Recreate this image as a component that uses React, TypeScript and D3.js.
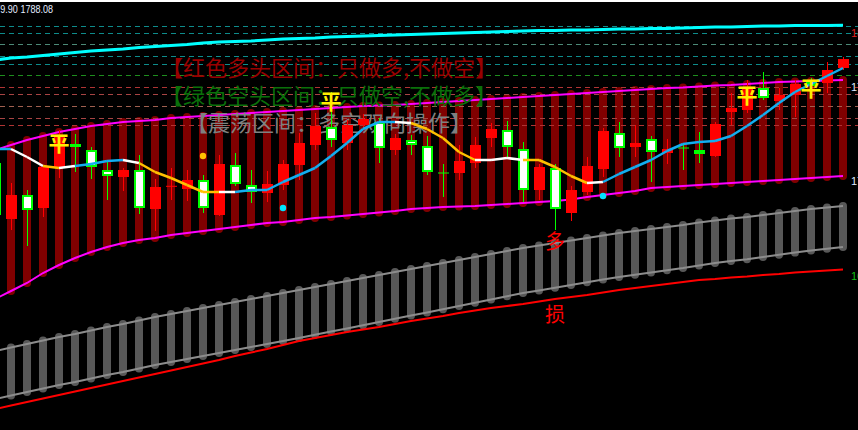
import React from 'react';
import * as d3 from 'd3';

const W = 858;
const H = 430;

// ---- candle data (bar 0 sits just off the left edge) ----
const candleOpen = [1736.1, 1708.1, 1720.1, 1713.6, 1733.6, 1745.6, 1742.6, 1732.6, 1729.1, 1732.6, 1713.1, 1724.5, 1723.1, 1727.6, 1710.1, 1735.1, 1725.1, 1721.1, 1725.1, 1735.1, 1745.1, 1754.1, 1746.1, 1755.1, 1756.6, 1742.6, 1747.6, 1744.6, 1731.1, 1731.1, 1736.1, 1748.6, 1752.6, 1743.1, 1722.6, 1733.6, 1711.1, 1721.6, 1733.1, 1751.1, 1744.1, 1748.1, 1741.1, 1743.6, 1742.6, 1739.6, 1761.6, 1762.6, 1773.6, 1767.1, 1770.1, 1776.6, 1776.1, 1783.6];
const candleHigh = [1740.1, 1726.1, 1722.6, 1735.1, 1752.6, 1750.6, 1744.1, 1736.6, 1733.6, 1740.1, 1728.1, 1733.6, 1732.6, 1730.1, 1740.1, 1741.1, 1732.6, 1732.1, 1737.6, 1751.1, 1761.1, 1771.6, 1757.6, 1760.6, 1758.6, 1750.6, 1750.1, 1749.6, 1735.6, 1745.1, 1749.1, 1756.1, 1757.1, 1746.6, 1735.6, 1735.6, 1724.6, 1739.1, 1753.6, 1756.6, 1755.1, 1749.6, 1748.1, 1746.1, 1751.6, 1756.6, 1771.1, 1777.6, 1781.6, 1773.6, 1777.6, 1778.6, 1786.6, 1789.1];
const candleLow = [1706.6, 1702.6, 1694.6, 1709.1, 1728.6, 1731.6, 1728.1, 1717.6, 1722.1, 1710.6, 1702.1, 1717.6, 1717.1, 1711.1, 1709.6, 1724.6, 1716.1, 1716.6, 1722.6, 1727.6, 1742.6, 1744.1, 1742.6, 1752.6, 1736.1, 1740.1, 1740.1, 1730.1, 1719.1, 1727.6, 1733.6, 1744.1, 1739.1, 1716.6, 1717.6, 1702.6, 1707.1, 1720.1, 1729.1, 1739.1, 1739.1, 1726.6, 1735.6, 1732.6, 1736.1, 1739.1, 1755.1, 1761.1, 1767.6, 1762.6, 1759.1, 1770.1, 1771.1, 1782.6];
const candleClose = [1710.1, 1720.1, 1712.6, 1734.1, 1750.1, 1744.1, 1734.1, 1729.6, 1732.6, 1713.6, 1724.1, 1724.7, 1727.6, 1713.6, 1735.6, 1725.6, 1721.6, 1725.6, 1735.6, 1746.1, 1754.6, 1747.6, 1755.1, 1758.1, 1743.6, 1748.6, 1745.1, 1731.6, 1731.1, 1737.1, 1745.1, 1753.1, 1744.1, 1722.6, 1734.1, 1713.1, 1722.6, 1734.6, 1752.1, 1743.6, 1746.1, 1741.6, 1743.1, 1743.6, 1740.6, 1755.6, 1763.6, 1774.1, 1768.6, 1770.1, 1775.6, 1774.6, 1782.6, 1788.08];

// ---- indicator lines ----
const cyanLine = [1787.6, 1788.6, 1789.1, 1789.85, 1790.6, 1791.35, 1792.1, 1792.6, 1793.1, 1793.85, 1794.35, 1794.85, 1795.35, 1796.1, 1796.6, 1796.85, 1797.1, 1797.6, 1798.1, 1798.35, 1798.6, 1799.1, 1799.35, 1799.6, 1799.85, 1800.1, 1800.35, 1800.6, 1800.85, 1801.1, 1801.35, 1801.6, 1801.85, 1802.1, 1802.35, 1802.35, 1802.6, 1802.6, 1802.85, 1803.1, 1803.1, 1803.35, 1803.35, 1803.6, 1803.85, 1804.1, 1804.1, 1804.35, 1804.6, 1804.6, 1804.85, 1804.85, 1804.85, 1804.95];
const bandUpper = [1742.6, 1745.1, 1747.6, 1749.6, 1751.6, 1753.1, 1754.6, 1755.6, 1756.6, 1757.1, 1757.6, 1758.6, 1759.1, 1759.6, 1760.1, 1760.6, 1761.1, 1761.6, 1762.1, 1762.6, 1763.1, 1763.6, 1764.1, 1764.6, 1764.85, 1765.1, 1765.6, 1766.1, 1766.6, 1767.1, 1767.6, 1768.1, 1768.6, 1769.1, 1769.6, 1770.1, 1770.6, 1771.1, 1771.6, 1772.1, 1772.6, 1773.1, 1773.6, 1773.85, 1774.35, 1774.85, 1775.1, 1775.6, 1776.1, 1776.6, 1776.85, 1777.1, 1777.35, 1777.6];
const bandLower = [1668.1, 1672.1, 1676.1, 1681.1, 1685.1, 1688.6, 1691.6, 1694.1, 1696.1, 1697.6, 1698.6, 1700.1, 1701.1, 1702.1, 1703.1, 1704.1, 1705.1, 1706.1, 1706.6, 1707.6, 1708.6, 1709.1, 1709.85, 1710.6, 1711.35, 1712.1, 1713.1, 1713.6, 1714.1, 1714.35, 1714.6, 1715.1, 1715.6, 1716.1, 1716.6, 1717.1, 1717.85, 1719.1, 1720.1, 1721.1, 1722.1, 1723.6, 1724.1, 1724.6, 1725.1, 1725.6, 1726.1, 1726.6, 1727.1, 1727.6, 1728.1, 1728.6, 1729.1, 1729.6];
const grayUpper = [1642.1, 1643.85, 1645.6, 1647.35, 1649.1, 1650.6, 1652.35, 1654.1, 1655.6, 1657.35, 1659.1, 1660.6, 1662.1, 1663.6, 1665.1, 1666.6, 1668.1, 1669.6, 1671.1, 1672.6, 1674.1, 1675.6, 1677.1, 1678.6, 1680.1, 1681.6, 1683.1, 1684.6, 1686.1, 1687.6, 1689.1, 1690.6, 1692.1, 1693.6, 1694.85, 1696.1, 1697.35, 1698.6, 1699.85, 1701.1, 1702.1, 1703.1, 1704.1, 1705.1, 1706.35, 1707.35, 1708.35, 1709.1, 1710.1, 1711.1, 1712.1, 1713.1, 1713.85, 1714.6];
const grayLower = [1618.1, 1619.85, 1621.6, 1623.35, 1625.1, 1626.6, 1628.35, 1630.1, 1631.6, 1633.35, 1635.1, 1636.6, 1638.1, 1639.6, 1641.1, 1642.6, 1644.1, 1645.6, 1647.1, 1648.6, 1650.2, 1651.8, 1653.4, 1655.0, 1656.6, 1658.2, 1659.8, 1661.4, 1663.0, 1664.6, 1666.25, 1667.85, 1669.45, 1671.05, 1672.4, 1673.75, 1675.1, 1676.45, 1677.8, 1679.15, 1680.25, 1681.35, 1682.45, 1683.55, 1684.9, 1686.05, 1687.15, 1688.0, 1689.1, 1690.2, 1691.3, 1692.4, 1693.25, 1694.1];
const stopLine = [1613.1, 1614.85, 1616.6, 1618.35, 1620.1, 1621.85, 1623.6, 1625.35, 1627.1, 1628.85, 1630.6, 1632.35, 1634.1, 1635.85, 1637.6, 1639.6, 1641.35, 1643.1, 1645.1, 1647.1, 1648.6, 1650.1, 1651.6, 1652.85, 1654.1, 1655.6, 1657.1, 1658.35, 1659.6, 1661.1, 1662.35, 1663.6, 1664.6, 1665.6, 1666.85, 1668.1, 1669.1, 1670.1, 1671.35, 1672.6, 1673.6, 1674.6, 1675.6, 1676.6, 1677.6, 1678.1, 1678.85, 1679.35, 1680.1, 1680.6, 1681.35, 1681.85, 1682.35, 1682.85];
const maLine = [1743.1, 1743.1, 1739.1, 1734.6, 1733.6, 1734.6, 1735.6, 1737.1, 1737.6, 1736.1, 1731.6, 1728.6, 1725.1, 1721.6, 1721.6, 1721.6, 1722.6, 1722.6, 1726.6, 1730.1, 1733.6, 1739.6, 1746.1, 1753.1, 1756.6, 1756.6, 1756.1, 1753.1, 1748.6, 1741.6, 1737.6, 1737.6, 1738.6, 1737.6, 1737.6, 1734.1, 1729.6, 1726.1, 1726.6, 1730.6, 1734.1, 1737.6, 1742.1, 1745.6, 1746.6, 1747.1, 1749.6, 1754.6, 1760.1, 1766.1, 1771.6, 1775.6, 1779.6, 1783.6];
// 1 = rising (blue), -1 = falling (yellow), 0 = flat (white); colour of segment ending at the bar
const maTrend = [0, 1, 0, 0, -1, 0, 1, 1, 1, 0, -1, -1, -1, -1, -1, 0, 1, 1, 1, 1, 1, 1, 1, 1, 1, 1, 0, -1, -1, -1, -1, 0, 0, 0, -1, -1, -1, -1, 0, 1, 1, 1, 1, 1, 1, 1, 1, 1, 1, 1, 1, 1, 1, 1];

// ---- horizontal levels ----
const levelPrices = [1804.75, 1800.95, 1795.45, 1789.6, 1785.6, 1779.95, 1774.1, 1770.45, 1764.6, 1758.75, 1754.95];
const levelColors = ['#0e8c8c', '#0e8c8c', '#4d8a78', '#0e8c8c', '#0e8c8c', '#1e8e1e', '#b03434', '#a84444', '#a06050', '#a84444', '#b03434'];

// ---- signals ----
const pingBars = [4, 21, 47, 51];
const pingPrices = [1746.6, 1767.6, 1770.6, 1774.1];
const cyanDotBars = [18, 38];
const cyanDotPrices = [1713.6, 1719.6];
const goldDotBars = [13];
const goldDotPrices = [1739.6];
const longBar = 35;
const longPrice = 1697.6;
const stopPrice = 1661.1;

// ---- labels ----
const legendLines = ['【红色多头区间：只做多,不做空】', '【绿色空头区间：只做空,不做多】', '【震荡区间：多空双向操作】'];
const legendColors = ['#9a0000', '#0a700a', '#808080'];
const axisLabels = ['1801.10', '1774.10', '1727.10', '1679.60'];
const axisLabelPrices = [1801.1, 1774.1, 1727.1, 1679.6];
const axisLabelColors = ['#e02020', '#dfe8ff', '#dfe8ff', '#10c010'];
const headerText = 'XAUUSD,H1  1783.60 1789.10 1779.90 1788.08';

const n = candleClose.length;
const xScale = d3.scaleLinear().domain([0, n - 1]).range([-5, 843]);
const yScale = d3.scaleLinear().domain([1602.6, 1817.6]).range([H, 0]);

const lineGen = d3
  .line<number>()
  .x((_, i) => xScale(i))
  .y((v) => yScale(v));

const trendColor = (t: number) => (t > 0 ? '#12aef0' : t < 0 ? '#ffc000' : '#ffffff');

export default function App() {
  const idx = d3.range(n);
  const cjk = '"Noto Sans CJK SC", "Noto Sans CJK JP", sans-serif';
  return (
    <div style={{ position: 'fixed', left: 0, top: 0, width: W, height: H, background: '#000' }}>
      <svg width={W} height={H} style={{ display: 'block' }}>
        <rect x={0} y={0} width={W} height={H} fill="#000" />
        {/* dark red band columns */}
        {idx.map((i) => (
          <line
            key={'rc' + i}
            x1={xScale(i)}
            x2={xScale(i)}
            y1={yScale(bandUpper[i])}
            y2={yScale(bandLower[i])}
            stroke="#800000"
            strokeWidth={8}
            strokeLinecap="round"
          />
        ))}
        {/* gray columns */}
        {idx.map((i) => (
          <line
            key={'gc' + i}
            x1={xScale(i)}
            x2={xScale(i)}
            y1={yScale(grayUpper[i])}
            y2={yScale(grayLower[i])}
            stroke="#585858"
            strokeWidth={8}
            strokeLinecap="round"
          />
        ))}
        {/* dashed levels */}
        {levelPrices.map((p, k) => (
          <line
            key={'lv' + k}
            x1={0}
            x2={W}
            y1={Math.round(yScale(p)) + 0.5}
            y2={Math.round(yScale(p)) + 0.5}
            stroke={levelColors[k]}
            strokeWidth={1}
            strokeDasharray="5,4"
          />
        ))}
        {/* indicator lines */}
        <path d={lineGen(grayUpper) || ''} fill="none" stroke="#8c8c8c" strokeWidth={2} />
        <path d={lineGen(grayLower) || ''} fill="none" stroke="#8c8c8c" strokeWidth={2} />
        <path d={lineGen(stopLine) || ''} fill="none" stroke="#ff0000" strokeWidth={2} />
        <path d={lineGen(bandUpper) || ''} fill="none" stroke="#ff00ff" strokeWidth={2} />
        <path d={lineGen(bandLower) || ''} fill="none" stroke="#ff00ff" strokeWidth={2} />
        <path d={lineGen(cyanLine) || ''} fill="none" stroke="#00ffff" strokeWidth={3} />
        {/* legend texts */}
        {legendLines.map((t, k) => (
          <text
            key={'lg' + k}
            x={k === 2 ? 186 : 161}
            y={[76, 104, 131][k]}
            fill={legendColors[k]}
            fontSize={22}
            fontFamily={cjk}
          >
            {t}
          </text>
        ))}
        {/* candles */}
        {idx.map((i) => {
          const cx = Math.round(xScale(i));
          const o = candleOpen[i];
          const c = candleClose[i];
          const bull = c > o;
          const top = yScale(Math.max(o, c));
          const bot = yScale(Math.min(o, c));
          const wickCol = bull ? '#ff0000' : '#00ff00';
          const hBody = bot - top;
          return (
            <g key={'cd' + i}>
              <line
                x1={cx + 0.5}
                x2={cx + 0.5}
                y1={yScale(candleHigh[i])}
                y2={yScale(candleLow[i])}
                stroke={wickCol}
                strokeWidth={1}
              />
              {bull ? (
                <rect x={cx - 5} y={top} width={11} height={Math.max(1, hBody)} fill="#ff0000" />
              ) : hBody < 2 ? (
                <rect x={cx - 5} y={top - 0.5} width={11} height={Math.max(1, hBody + 1)} fill="#00ff00" />
              ) : (
                <rect
                  x={cx - 4}
                  y={top + 1}
                  width={9}
                  height={Math.max(0.5, hBody - 2)}
                  fill="#ffffff"
                  stroke="#00ff00"
                  strokeWidth={2}
                />
              )}
            </g>
          );
        })}
        {/* MA line coloured by trend */}
        {idx.slice(1).map((i) => (
          <line
            key={'ma' + i}
            x1={xScale(i - 1)}
            x2={xScale(i)}
            y1={yScale(maLine[i - 1])}
            y2={yScale(maLine[i])}
            stroke={trendColor(maTrend[i])}
            strokeWidth={2.5}
          />
        ))}
        {/* signals */}
        {goldDotBars.map((b, k) => (
          <circle key={'gd' + k} cx={xScale(b)} cy={yScale(goldDotPrices[k])} r={3.2} fill="#ffc000" />
        ))}
        {cyanDotBars.map((b, k) => (
          <circle key={'cy' + k} cx={xScale(b)} cy={yScale(cyanDotPrices[k])} r={3.2} fill="#00e5ff" />
        ))}
        {pingBars.map((b, k) => (
          <text
            key={'pg' + k}
            x={xScale(b)}
            y={yScale(pingPrices[k])}
            textAnchor="middle"
            dominantBaseline="central"
            fill="#ffee00"
            fontSize={21}
            fontWeight="bold"
            fontFamily={cjk}
          >
            平
          </text>
        ))}
        <text
          x={xScale(longBar)}
          y={yScale(longPrice)}
          textAnchor="middle"
          dominantBaseline="central"
          fill="#ff0000"
          fontSize={20}
          fontFamily={cjk}
        >
          多
        </text>
        <text
          x={xScale(longBar)}
          y={yScale(stopPrice)}
          textAnchor="middle"
          dominantBaseline="central"
          fill="#ff0000"
          fontSize={20}
          fontFamily={cjk}
        >
          损
        </text>
        {/* frame top line and header */}
        <line x1={0} x2={W} y1={1} y2={1} stroke="#ffffff" strokeWidth={2} />
        <g transform="scale(0.86,1)">
          <text x={53 / 0.86} y={13} textAnchor="end" fill="#e4ecff" fontSize={10.5} fontFamily='"Liberation Sans", Arial, sans-serif'>
            {headerText}
          </text>
        </g>
        {axisLabels.map((t, k) => (
          <text
            key={'ax' + k}
            x={851}
            y={yScale(axisLabelPrices[k]) + 4}
            fill={axisLabelColors[k]}
            fontSize={11}
            fontFamily='"Liberation Sans", Arial, sans-serif'
          >
            {t}
          </text>
        ))}
      </svg>
    </div>
  );
}
